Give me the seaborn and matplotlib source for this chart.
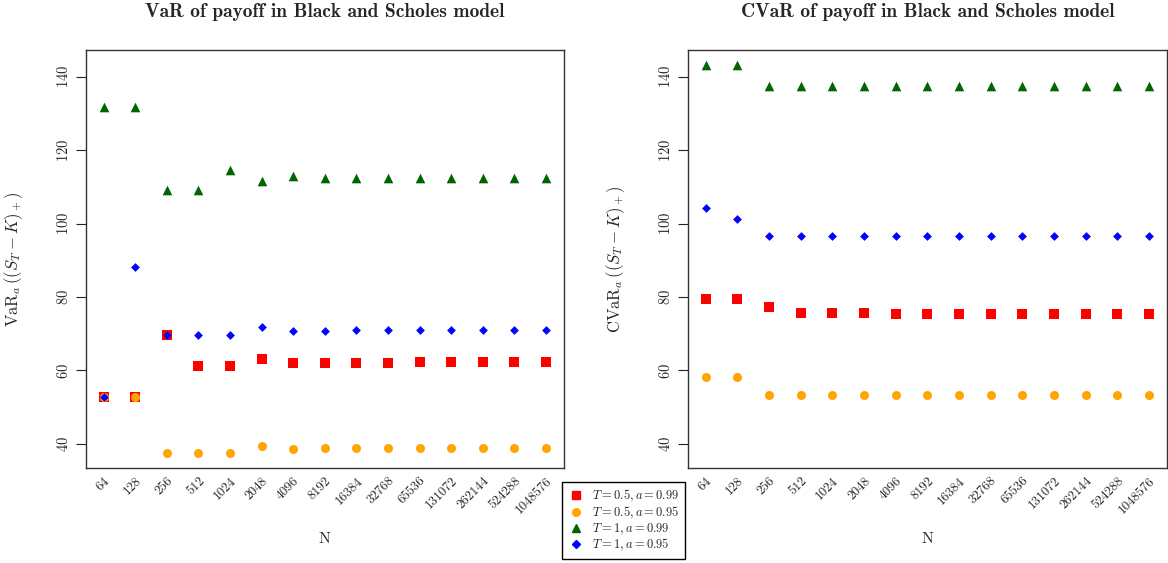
import matplotlib
matplotlib.use("Agg")
import matplotlib.pyplot as plt
from matplotlib.lines import Line2D
import seaborn as sns
import pandas as pd

# sample sizes on the x axis
n_labels = ["64", "128", "256", "512", "1024", "2048", "4096", "8192", "16384",
            "32768", "65536", "131072", "262144", "524288", "1048576"]

# VaR values
var_t05_a99 = [52.8, 52.8, 69.7, 61.2, 61.2, 63.1, 62.0, 62.0, 62.0, 62.0, 62.3, 62.3, 62.3, 62.3, 62.3]
var_t05_a95 = [52.8, 52.8, 37.6, 37.6, 37.6, 39.4, 38.6, 39.0, 39.0, 39.0, 39.0, 39.0, 39.0, 39.0, 39.0]
var_t1_a99 = [131.6, 131.6, 109.0, 109.0, 114.5, 111.7, 113.0, 112.4, 112.4, 112.4, 112.4, 112.4, 112.4, 112.4, 112.4]
var_t1_a95 = [52.8, 88.2, 69.7, 69.7, 69.7, 71.9, 70.8, 70.8, 71.0, 71.0, 71.0, 71.0, 71.0, 71.0, 71.0]

# CVaR values
cvar_t05_a99 = [79.4, 79.4, 77.3, 75.6, 75.6, 75.6, 75.3, 75.3, 75.3, 75.3, 75.3, 75.3, 75.3, 75.3, 75.3]
cvar_t05_a95 = [58.2, 58.2, 53.4, 53.4, 53.4, 53.4, 53.4, 53.4, 53.4, 53.4, 53.4, 53.4, 53.4, 53.4, 53.4]
cvar_t1_a99 = [143.2, 143.2, 137.5, 137.5, 137.5, 137.5, 137.5, 137.5, 137.5, 137.5, 137.5, 137.5, 137.5, 137.5, 137.5]
cvar_t1_a95 = [104.3, 101.2, 96.6, 96.6, 96.6, 96.6, 96.6, 96.6, 96.6, 96.6, 96.6, 96.6, 96.6, 96.6, 96.6]

series_names = ["$T=0.5, a=0.99$", "$T=0.5, a=0.95$", "$T=1, a=0.99$", "$T=1, a=0.95$"]
colors = ["#ff0000", "#ffa500", "#006400", "#0000ff"]
markers = ["s", "o", "^", "D"]
sizes = [42, 42, 48, 20]


def long_frame(cols):
    rows = []
    for name, vals in zip(series_names, cols):
        for n, v in zip(n_labels, vals):
            rows.append({"N": n, "value": v, "series": name})
    return pd.DataFrame(rows)


df_var = long_frame([var_t05_a99, var_t05_a95, var_t1_a99, var_t1_a95])
df_cvar = long_frame([cvar_t05_a99, cvar_t05_a95, cvar_t1_a99, cvar_t1_a95])

sns.set_theme(style="white")
plt.rcParams["font.family"] = "serif"
plt.rcParams["font.serif"] = ["cmr10", "DejaVu Serif"]
plt.rcParams["mathtext.fontset"] = "cm"
plt.rcParams["axes.formatter.use_mathtext"] = True

fig = plt.figure(figsize=(11.68, 5.63), dpi=100)
ax1 = fig.add_axes([0.0736, 0.169, 0.409, 0.742])
ax2 = fig.add_axes([0.589, 0.169, 0.410, 0.742])

panels = [
    (ax1, df_var, "VaR of payoff in Black and Scholes model", r"$\mathrm{VaR}_a\,((S_T-K)_+)$"),
    (ax2, df_cvar, "CVaR of payoff in Black and Scholes model", r"$\mathrm{CVaR}_a\,((S_T-K)_+)$"),
]

for ax, df, title, ylab in panels:
    for name, col, mk, sz in zip(series_names, colors, markers, sizes):
        sub = df[df["series"] == name]
        sns.scatterplot(data=sub, x="N", y="value", ax=ax, color=col, marker=mk,
                        s=sz, linewidth=0, legend=False)
    ax.set_xlim(-0.56, 14.56)
    ax.set_ylim(33.5, 147.2)
    ax.set_yticks([40, 60, 80, 100, 120, 140])
    ax.set_xticks(range(len(n_labels)))
    ax.set_xticklabels(n_labels, rotation=45, ha="right", va="top",
                       rotation_mode="anchor", fontsize=9.5)
    for lab in ax.get_yticklabels():
        lab.set_rotation(90)
        lab.set_va("center")
        lab.set_fontsize(10.5)
    ax.tick_params(axis="y", direction="out", length=7, width=0.8, color="#222222", left=True, pad=4)
    ax.tick_params(axis="x", length=0, pad=5)
    for sp in ax.spines.values():
        sp.set_color("#333333")
        sp.set_linewidth(1.0)
    ax.set_title(title, fontsize=14, fontfamily="cmb10", pad=24)
    ax.set_ylabel(ylab, fontsize=12, labelpad=22)
    ax.set_xlabel("N", fontsize=11.5, labelpad=12)

handles = [Line2D([], [], linestyle="none", marker=mk, color=col, markersize=ms)
           for col, mk, ms in zip(colors, markers, [5.5, 5.5, 6, 4])]
fig.legend(handles, series_names, loc="upper left", bbox_to_anchor=(0.481, 0.144),
           borderaxespad=0, frameon=True, fancybox=False, edgecolor="black",
           fontsize=9, handletextpad=0.7, labelspacing=0.05, borderpad=0.45,
           handlelength=1.3, framealpha=1)

fig.savefig("out.png", dpi=100)
